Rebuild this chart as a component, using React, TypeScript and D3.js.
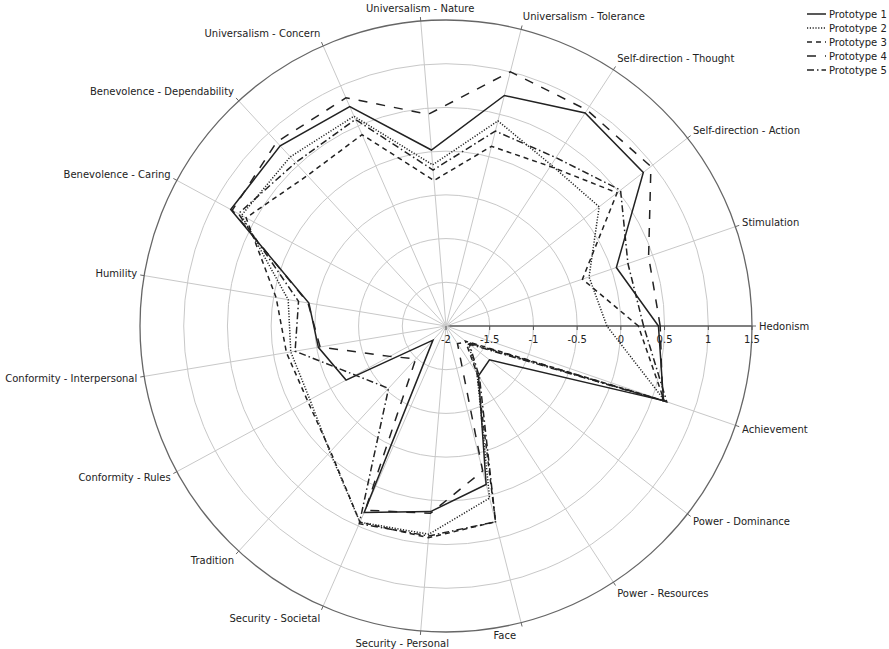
import React from "react";
import * as d3 from "d3";

const categories = [
  "Hedonism",
  "Stimulation",
  "Self-direction - Action",
  "Self-direction - Thought",
  "Universalism - Tolerance",
  "Universalism - Nature",
  "Universalism - Concern",
  "Benevolence - Dependability",
  "Benevolence - Caring",
  "Humility",
  "Conformity - Interpersonal",
  "Conformity - Rules",
  "Tradition",
  "Security - Societal",
  "Security - Personal",
  "Face",
  "Power - Resources",
  "Power - Dominance",
  "Achievement",
];

const seriesNames = ["Prototype 1", "Prototype 2", "Prototype 3", "Prototype 4", "Prototype 5"];

const prototype1 = [0.43, 0.06, 0.86, 0.91, 0.72, 0.02, 0.74, 0.8, 0.8, -0.41, -0.52, -0.7, -1.78, 0.33, 0.13, -0.13, -1.32, -1.37, 0.63];
const prototype2 = [-0.16, -0.27, 0.22, 0.2, 0.42, -0.15, 0.62, 0.63, 0.66, -0.17, -0.2, -0.23, -0.04, 0.45, 0.39, 0.03, -1.35, -1.68, 0.65];
const prototype3 = [0.2, -0.35, 0.48, 0.18, 0.12, -0.33, 0.39, 0.34, 0.6, -0.03, -0.15, -0.2, -0.05, 0.45, 0.43, 0.31, -1.35, -1.72, 0.64];
const prototype4 = [0.45, 0.45, 0.97, 0.95, 1.0, 0.43, 0.85, 0.86, 0.78, -0.4, -0.54, -1.27, -1.49, 0.3, 0.15, -0.29, -1.76, -1.7, 0.62];
const prototype5 = [0.26, 0.2, 0.53, 0.3, 0.3, -0.21, 0.58, 0.54, 0.7, -0.29, -0.25, -0.82, -1.03, 0.47, 0.41, 0.31, -1.3, -1.66, 0.67];

const radialTicks = [-2, -1.5, -1, -0.5, 0, 0.5, 1, 1.5];
const radialTickLabels = ["-2", "-1.5", "-1", "-0.5", "0", "0.5", "1", "1.5"];

const allSeries = [prototype1, prototype2, prototype3, prototype4, prototype5];
const dashes = ["none", "1.2,1.6", "5,4", "9,9", "7,3,1.5,3"];

export default function App() {
  const W = 889;
  const H = 649;
  const cx = 446;
  const cy = 326;
  const R = 306;
  const font = "'DejaVu Sans', Verdana, sans-serif";
  const textColor = "#222";

  const r = d3.scaleLinear().domain([-2, 1.5]).range([0, R]);
  const n = categories.length;
  const ang = d3.scaleLinear().domain([0, n]).range([0, 2 * Math.PI]);

  const line = d3
    .lineRadial<number>()
    .angle((d, i) => Math.PI / 2 - ang(i))
    .radius((d) => r(d))
    .curve(d3.curveLinearClosed);

  const gridVals = radialTicks.slice(1, -1);

  return (
    <div style={{ position: "absolute", left: 0, top: 0 }}>
      <svg width={W} height={H} style={{ display: "block", background: "#fff" }}>
        <g>
          {gridVals.map((v) => (
            <circle key={v} cx={cx} cy={cy} r={r(v)} fill="none" stroke="#c8c8c8" strokeWidth={1} />
          ))}
          {categories.map((c, i) => {
            const a = ang(i);
            return (
              <line
                key={c}
                x1={cx}
                y1={cy}
                x2={cx + R * Math.cos(a)}
                y2={cy - R * Math.sin(a)}
                stroke={i === 0 ? "#555" : "#c8c8c8"}
                strokeWidth={i === 0 ? 1.3 : 1}
              />
            );
          })}
          <circle cx={cx} cy={cy} r={R} fill="none" stroke="#666" strokeWidth={1.3} />
          {categories.map((c, i) => {
            const a = ang(i);
            return (
              <line
                key={"t" + c}
                x1={cx + R * Math.cos(a)}
                y1={cy - R * Math.sin(a)}
                x2={cx + (R + 4) * Math.cos(a)}
                y2={cy - (R + 4) * Math.sin(a)}
                stroke="#666"
                strokeWidth={1}
              />
            );
          })}
          {radialTicks.map((v) => (
            <line key={"rt" + v} x1={cx + r(v)} y1={cy} x2={cx + r(v)} y2={cy + 4} stroke="#555" strokeWidth={1} />
          ))}
          {radialTicks.map((v, k) => (
            <text
              key={"rl" + v}
              x={cx + r(v)}
              y={cy + 17}
              textAnchor="middle"
              fontFamily={font}
              fontSize={10}
              fill={textColor}
            >
              {radialTickLabels[k]}
            </text>
          ))}
          {categories.map((c, i) => {
            const a = ang(i);
            const cos = Math.cos(a);
            const sin = Math.sin(a);
            const pad = 7;
            const bottom = sin < -0.95;
            const x = cx + (R + pad) * cos + (bottom ? -18 : 0);
            const y = cy - (R + pad) * sin - 6 * sin;
            const anchor = bottom || Math.abs(cos) < 0.1 ? "middle" : cos > 0 ? "start" : "end";
            return (
              <text
                key={"l" + c}
                x={x}
                y={y}
                textAnchor={anchor}
                dominantBaseline="central"
                fontFamily={font}
                fontSize={10}
                fill={textColor}
              >
                {c}
              </text>
            );
          })}
        </g>
        <g transform={`translate(${cx},${cy})`}>
          {allSeries.map((s, k) => (
            <path
              key={seriesNames[k]}
              d={line(s) || ""}
              fill="none"
              stroke="#222"
              strokeWidth={1.5}
              strokeDasharray={dashes[k]}
            />
          ))}
        </g>
        <g>
          {seriesNames.map((name, k) => (
            <g key={name} transform={`translate(807,${14 + k * 14})`}>
              <line x1={0} y1={0} x2={19} y2={0} stroke="#222" strokeWidth={1.5} strokeDasharray={dashes[k]} />
              <text x={22} y={0} dominantBaseline="central" fontFamily={font} fontSize={10} fill={textColor}>
                {name}
              </text>
            </g>
          ))}
        </g>
      </svg>
    </div>
  );
}
